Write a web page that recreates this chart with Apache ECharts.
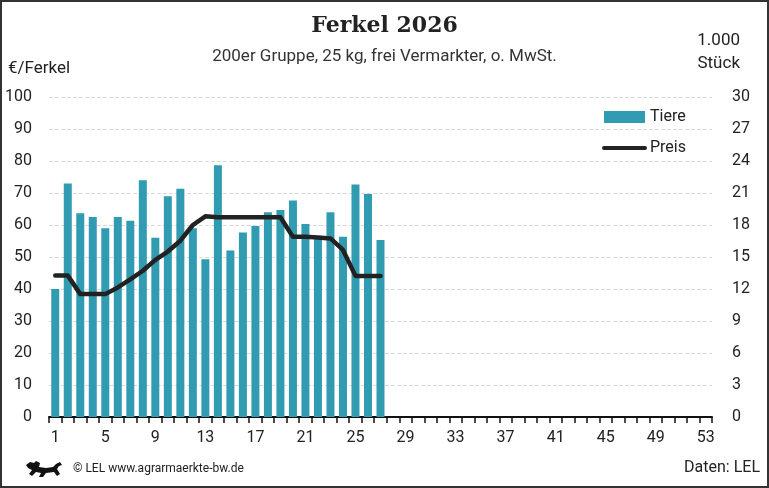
<!DOCTYPE html>
<html>
<head>
<meta charset="utf-8">
<script src="https://cdn.jsdelivr.net/npm/echarts@6/dist/echarts.min.js"></script>
<style>
html,body{margin:0;padding:0;background:#fff;}
#c{width:769px;height:488px;}
</style>
</head>
<body>
<div id="c"></div>
<script>
// Data
const weeks = Array.from({length: 53}, (_, i) => String(i + 1));
const tiere = [12.0, 21.9, 19.1, 18.75, 17.7, 18.75, 18.4, 22.2, 16.8, 20.7, 21.4, 17.7, 14.8, 23.6, 15.6, 17.3, 17.9, 19.2, 19.4, 20.3, 18.1, 16.8, 19.2, 16.9, 21.8, 20.9, 16.6];
const preis = [44.2, 44.2, 38.4, 38.4, 38.4, 40.5, 43.0, 45.7, 49.1, 51.7, 55.1, 60.0, 62.7, 62.4, 62.4, 62.4, 62.4, 62.4, 62.4, 56.3, 56.3, 56.1, 55.8, 52.2, 44.1, 44.1, 44.1];
const leftTicks = {min: 0, max: 100, interval: 10};
const rightTicks = {min: 0, max: 30, interval: 3};

const sans = 'Roboto, "Liberation Sans", sans-serif';
const lion = [[0,6],[4,3],[8,4],[10,2],[14,4],[13,8],[20,9],[27,8],[30,5],[34,3],[36,6],[33,7],[31,10],[34,15],[31,17],[28,13],[20,14],[17,18],[13,18],[15,14],[10,13],[6,17],[3,15],[6,11],[2,9]];
const chart = echarts.init(document.getElementById('c'), null, {renderer: 'canvas'});
chart.setOption({
  animation: false,
  backgroundColor: '#fff',
  title: [
    {text: 'Ferkel 2026', left: 'center', top: 10,
     textStyle: {fontFamily: '"DejaVu Serif", "Liberation Serif", serif', fontWeight: 'bold', fontSize: 22, color: '#222'}},
    {text: '200er Gruppe, 25 kg, frei Vermarkter, o. MwSt.', left: 'center', top: 43,
     textStyle: {fontFamily: sans, fontWeight: 'normal', fontSize: 17, color: '#333'}}
  ],
  legend: {
    orient: 'vertical', left: 597, top: 104, itemWidth: 41, itemHeight: 12, itemGap: 15,
    textStyle: {fontFamily: sans, fontSize: 16, color: '#222'},
    data: [
      {name: 'Tiere', icon: 'rect'},
      {name: 'Preis', itemStyle: {opacity: 0}, lineStyle: {width: 4, color: '#222', cap: 'round'}}
    ]
  },
  grid: {left: 49, right: 57, top: 97, bottom: 71},
  xAxis: {
    type: 'category', data: weeks, boundaryGap: true,
    axisLine: {lineStyle: {color: '#111', width: 2}},
    axisTick: {show: true, interval: 0, length: 6, lineStyle: {color: '#111', width: 1.5}},
    axisLabel: {interval: 3, fontFamily: sans, fontSize: 16, color: '#222', margin: 13},
    splitLine: {show: false}
  },
  yAxis: [
    {type: 'value', min: leftTicks.min, max: leftTicks.max, interval: leftTicks.interval,
     axisLine: {show: false}, axisTick: {show: false},
     axisLabel: {fontFamily: sans, fontSize: 16, color: '#222', margin: 17},
     splitLine: {lineStyle: {color: '#d9d9d9', type: 'dashed', width: 1}}},
    {type: 'value', min: rightTicks.min, max: rightTicks.max, interval: rightTicks.interval,
     axisLine: {show: false}, axisTick: {show: false},
     axisLabel: {fontFamily: sans, fontSize: 16, color: '#222', margin: 20},
     splitLine: {show: false}}
  ],
  series: [
    {name: 'Tiere', type: 'bar', yAxisIndex: 1, data: tiere, barWidth: 8,
     itemStyle: {color: '#319cb1'}},
    {name: 'Preis', type: 'line', yAxisIndex: 0, data: preis, symbol: 'none',
     lineStyle: {color: '#222', width: 4.5, join: 'round', cap: 'round'},
     itemStyle: {color: '#222'}, z: 5}
  ],
  graphic: [
    {type: 'rect', shape: {x: 1, y: 1, width: 767, height: 486},
     style: {fill: 'none', stroke: '#333', lineWidth: 2}, silent: true},
    {type: 'text', left: 8, top: 60,
     style: {text: '€/Ferkel', font: '17px ' + sans, fill: '#222'}},
    {type: 'text', right: 29, top: 32,
     style: {text: '1.000', font: '17px ' + sans, fill: '#222'}},
    {type: 'text', right: 29, top: 55,
     style: {text: 'Stück', font: '17px ' + sans, fill: '#222'}},
    {type: 'text', left: 73, top: 463,
     style: {text: '© LEL www.agrarmaerkte-bw.de', font: '12px ' + sans, fill: '#222'}},
    {type: 'text', right: 9, top: 460,
     style: {text: 'Daten: LEL', font: '16px ' + sans, fill: '#222'}},
    {type: 'polygon', left: 26, top: 461,
     shape: {points: lion},
     style: {fill: '#111'}}
  ]
});
</script>
</body>
</html>
